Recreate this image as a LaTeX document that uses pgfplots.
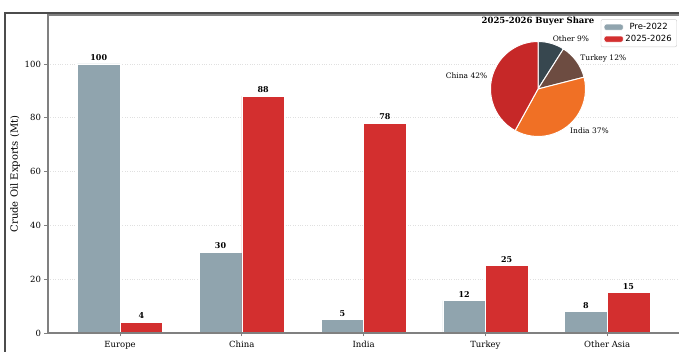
\documentclass[border=0pt]{standalone}
\usepackage{fontspec}
\setmainfont{DejaVu Serif}
\newfontfamily\legfont{DejaVu Sans}
\usepackage{pgfplots}
\usepackage{pgfplotstable}
\pgfplotsset{compat=1.18}
\definecolor{bargrey}{HTML}{90A4AE}
\definecolor{barred}{HTML}{D32F2F}
\definecolor{pieother}{HTML}{37474F}
\definecolor{pieturkey}{HTML}{6D4C41}
\definecolor{pieindia}{HTML}{F07025}
\definecolor{piechina}{HTML}{C62828}
\definecolor{spine}{HTML}{808080}
\tikzset{pielab/.style={font=\fontsize{7.5}{9}\selectfont, inner sep=0pt}}

\pgfplotstableread{
x pre post
0 100 4
1 30 88
2 5 78
3 12 25
4 8 15
}\bardata

\begin{document}
\begin{tikzpicture}[x=1pt,y=1pt]
\path[use as bounding box] (0,0) rectangle (679,352);
\begin{axis}[
  at={(48pt,19pt)}, anchor=south west,
  width=631pt, height=318pt, scale only axis,
  xmin=-0.592, xmax=4.59, ymin=0, ymax=118.2,
  axis line style={draw=none},
  ybar, bar width=0.35,
  xtick={0,...,4}, xticklabels={Europe,China,India,Turkey,Other Asia},
  ytick={0,20,...,100},
  tick align=outside, xtick pos=bottom, ytick pos=left,
  major tick length=3.5pt,
  tick style={spine, line width=0.8pt},
  ymajorgrids, grid style={dotted, black!12, line width=0.7pt},
  ticklabel style={font=\fontsize{8.5}{10}\selectfont},
  xticklabel style={yshift=-1pt},
  /pgf/number format/assume math mode=true,
  ylabel={Crude Oil Exports (Mt)},
  every axis y label/.style={at={(axis description cs:-0.0523,0.5)}, rotate=90, anchor=center, font=\fontsize{10}{12}\selectfont},
  legend style={at={(axis description cs:0.9968,0.987)}, anchor=north east,
    font=\legfont\fontsize{8.5}{10}\selectfont, draw=black!20, rounded corners=2pt,
    fill=white, inner xsep=3pt, inner ysep=2pt, row sep=0pt},
  legend image code/.code={\fill[#1] (0pt,-3pt) rectangle (19pt,3pt);},
  nodes near coords,
  every node near coord/.append style={font=\bfseries\fontsize{8}{9.6}\selectfont, inner sep=3pt},
  clip=false,
]
\addplot[fill=bargrey, draw=white, line width=0.5pt, bar shift=-0.175] table[x=x,y=pre] {\bardata};
\addlegendentry{Pre-2022}
\addplot[fill=barred, draw=white, line width=0.5pt, bar shift=0.175] table[x=x,y=post] {\bardata};
\addlegendentry{2025-2026}
\draw[spine, line width=1.1pt] (rel axis cs:1,1) -- (rel axis cs:0,1) -- (rel axis cs:0,0) -- (rel axis cs:1,0);
\end{axis}
\draw[color=black!70, line width=1.2pt] (5,0) -- (5,339) -- (679,339);

\begin{axis}[
  at={(538pt,263pt)}, anchor=center,
  width=95pt, height=95pt, scale only axis, hide axis,
  xmin=-1, xmax=1, ymin=-1, ymax=1, clip=false,
]
\pgfmathsetmacro\startang{90}
\foreach \p/\c/\l in {9/pieother/Other 9\%, 12/pieturkey/Turkey 12\%, 37/pieindia/India 37\%, 42/piechina/China 42\%}{
  \pgfmathsetmacro\endang{\startang-3.6*\p}
  \pgfmathsetmacro\midang{\startang-1.8*\p}
  \pgfmathtruncatemacro\isright{cos(\midang)>0}
  \ifnum\isright=1 \def\anc{west}\else\def\anc{east}\fi
  \edef\cmd{\noexpand\fill[\c, draw=white, line width=1pt] (axis cs:0,0) -- ++(\startang:47.5pt) arc[start angle=\startang, end angle=\endang, radius=47.5pt] -- cycle;
    \noexpand\path (axis cs:0,0) ++(\midang:52.25pt) node[pielab, anchor=\anc] {\l};}
  \cmd
  \global\let\startang\endang
}
\end{axis}
\node[font=\bfseries\fontsize{8.5}{10}\selectfont] at (538,331) {2025-2026 Buyer Share};
\end{tikzpicture}
\end{document}
